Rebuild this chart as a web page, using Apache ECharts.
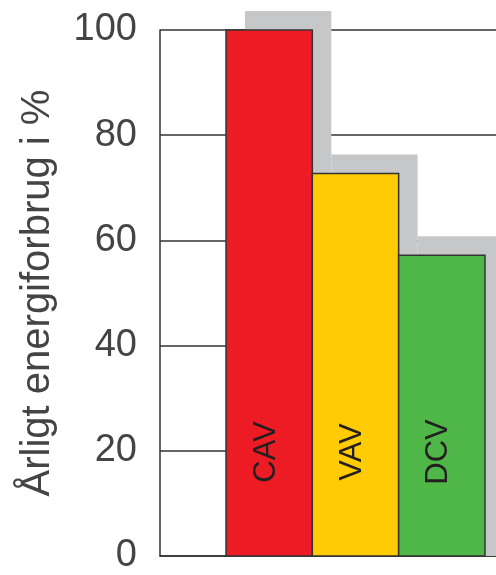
<!DOCTYPE html>
<html>
<head>
<meta charset="utf-8">
<script src="https://cdn.jsdelivr.net/npm/echarts@6/dist/echarts.min.js"></script>
<style>html,body{margin:0;padding:0;background:#fff;}#c{width:496px;height:575px;}</style>
</head>
<body>
<div id="c"></div>
<script>
const categories = ['CAV', 'VAV', 'DCV'];
const values = [100, 72.7, 57.2];
const barColors = ['#ED1C24', '#FFCB05', '#4FB748'];
const yTicks = [0, 20, 40, 60, 80, 100];
const yAxisName = 'Årligt energiforbrug i %';

const SHADOW_OFF = 19;
const FONT = '"Liberation Sans", Arial, sans-serif';

const chart = echarts.init(document.getElementById('c'), null, {renderer: 'canvas'});

const data = values.map((v, i) => [i, v]);

function renderShadow(params, api) {
  const i = api.value(0), v = api.value(1);
  const tl = api.coord([i - 0.5, v]);
  const br = api.coord([i + 0.5, 0]);
  return {
    type: 'rect',
    shape: {x: tl[0] + SHADOW_OFF, y: tl[1] - SHADOW_OFF, width: br[0] - tl[0], height: br[1] - tl[1] + SHADOW_OFF},
    style: {fill: '#C6C7C9'}
  };
}

function renderBar(params, api) {
  const i = api.value(0), v = api.value(1);
  const tl = api.coord([i - 0.5, v]);
  const br = api.coord([i + 0.5, 0]);
  return {
    type: 'group',
    children: [
      {
        type: 'rect',
        shape: {x: tl[0], y: tl[1], width: br[0] - tl[0], height: br[1] - tl[1]},
        style: {fill: barColors[params.dataIndex], stroke: '#333', lineWidth: 1.5}
      },
      {
        type: 'text',
        x: (tl[0] + br[0]) / 2 - 3,
        y: br[1] - 104,
        rotation: Math.PI / 2,
        style: {
          text: categories[params.dataIndex],
          fontSize: 31,
          fontFamily: FONT,
          fill: '#231F20',
          align: 'center',
          verticalAlign: 'middle'
        }
      }
    ]
  };
}

chart.setOption({
  animation: false,
  backgroundColor: '#fff',
  grid: {left: 160, right: 0, top: 30, bottom: 12, containLabel: false},
  xAxis: {
    type: 'value',
    min: -1.265,
    max: 2.628,
    axisLine: {show: true, onZero: false, lineStyle: {color: '#333', width: 1.5}},
    axisTick: {show: false},
    axisLabel: {show: false},
    splitLine: {show: false}
  },
  yAxis: {
    type: 'value',
    min: yTicks[0],
    max: yTicks[yTicks.length - 1],
    interval: 20,
    name: yAxisName,
    nameLocation: 'middle',
    nameGap: 102,
    nameRotate: 90,
    nameTextStyle: {fontSize: 40, color: '#444', fontFamily: FONT},
    axisLine: {show: true, onZero: false, lineStyle: {color: '#333', width: 1.5}},
    axisTick: {show: false},
    axisLabel: {fontSize: 38, color: '#444', fontFamily: FONT, margin: 23, padding: [0, 0, 8, 0]},
    splitLine: {show: true, lineStyle: {color: '#333', width: 1.5}}
  },
  series: [
    {type: 'custom', renderItem: renderShadow, data: data, clip: false, z: 2, silent: true},
    {type: 'custom', renderItem: renderBar, data: data, clip: false, z: 3, silent: true}
  ]
});
</script>
</body>
</html>
